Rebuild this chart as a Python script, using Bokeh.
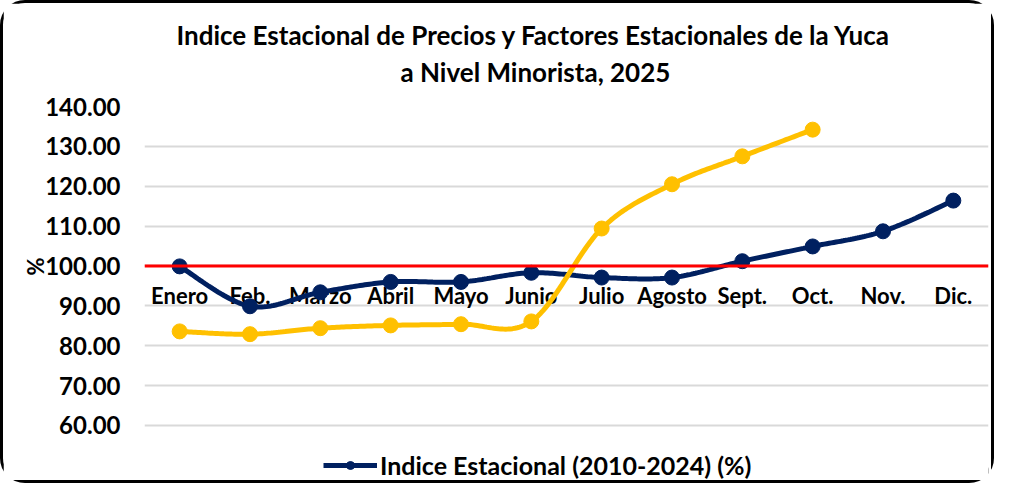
import numpy as np
from bokeh.plotting import figure
from bokeh.models import Range1d, Span, Title, Legend, LegendItem, FixedTicker, NumeralTickFormatter
from bokeh.core.properties import value
from bokeh.embed import file_html
from bokeh.resources import INLINE

months = ["Enero", "Feb.", "Marzo", "Abril", "Mayo", "Junio", "Julio", "Agosto", "Sept.", "Oct.", "Nov.", "Dic."]
indice = [99.9, 89.9, 93.4, 96.0, 96.0, 98.3, 97.1, 97.1, 101.2, 104.9, 108.7, 116.4]
factor = [83.6, 82.9, 84.4, 85.1, 85.4, 86.1, 109.4, 120.5, 127.5, 134.2]
y_ticks = [60, 70, 80, 90, 100, 110, 120, 130, 140]
title_lines = ["Indice Estacional de Precios y Factores Estacionales de la Yuca", "a Nivel Minorista, 2025"]
legend_label = "Indice Estacional (2010-2024) (%)"
axis_title = "%"

NAVY = "#002060"
GOLD = "#FFC000"
FONT = "Lato"


def smooth(ys, n=30):
    xs = np.arange(len(ys), dtype=float)
    ys = np.asarray(ys, dtype=float)
    px, py = [], []
    for i in range(len(ys) - 1):
        p0 = max(i - 1, 0)
        p3 = min(i + 2, len(ys) - 1)
        c1x = xs[i] + (xs[i + 1] - xs[p0]) / 6
        c1y = ys[i] + (ys[i + 1] - ys[p0]) / 6
        c2x = xs[i + 1] - (xs[p3] - xs[i]) / 6
        c2y = ys[i + 1] - (ys[p3] - ys[i]) / 6
        t = np.linspace(0, 1, n, endpoint=(i == len(ys) - 2))
        a = (1 - t) ** 3
        b = 3 * (1 - t) ** 2 * t
        c = 3 * (1 - t) * t ** 2
        d = t ** 3
        px.extend((a * xs[i] + b * c1x + c * c2x + d * xs[i + 1]).tolist())
        py.extend((a * ys[i] + b * c1y + c * c2y + d * ys[i + 1]).tolist())
    return px, py


p = figure(width=994, height=483, output_backend="svg", toolbar_location=None,
           x_range=Range1d(-0.5, 11.5), y_range=Range1d(46.2, 140),
           min_border_left=141, min_border_right=9, min_border_top=103, min_border_bottom=6)

p.styles = {"border": "3px solid black", "border-radius": "25px"}

# title: lower line first (closest to the plot), then the upper line
p.add_layout(Title(text=title_lines[1], align="left", offset=256, text_font=FONT, text_font_size="26px",
                   text_font_style="bold", text_color="black", standoff=37), "above")
p.add_layout(Title(text=title_lines[0], align="left", offset=32, text_font=FONT, text_font_size="26px",
                   text_font_style="bold", text_color="black", standoff=-30), "above")

p.xaxis.visible = False
p.xgrid.visible = False
p.outline_line_color = None

p.yaxis.ticker = FixedTicker(ticks=y_ticks)
p.yaxis.formatter = NumeralTickFormatter(format="0.00")
p.yaxis.major_label_text_font = FONT
p.yaxis.major_label_text_font_size = "24px"
p.yaxis.major_label_text_font_style = "bold"
p.yaxis.major_label_text_color = "black"
p.yaxis.major_label_standoff = 24
p.yaxis.major_tick_out = 0
p.yaxis.major_tick_in = 0
p.yaxis.axis_line_color = None
p.yaxis.major_tick_line_color = None
p.yaxis.minor_tick_line_color = None
p.ygrid.grid_line_color = "#d9d9d9"
p.ygrid.grid_line_width = 2

p.add_layout(Title(text=axis_title, align="left", offset=205, text_font=FONT, text_font_size="22px",
                   text_font_style="bold", text_color="black", standoff=-12), "left")

# category labels along the 100 line
p.text(x=list(range(len(months))), y=[100] * len(months), text=months,
       text_font=value(FONT), text_font_size="22px", text_font_style="bold",
       text_color="black", text_align="center", text_baseline="middle", y_offset=30)

p.add_layout(Span(location=100, dimension="width", line_color="#ff0000", line_width=3))

sx, sy = smooth(indice)
l1 = p.line(sx, sy, line_color=NAVY, line_width=5)
m1 = p.scatter(list(range(len(indice))), indice, size=15, fill_color=NAVY, line_color=NAVY)

gx, gy = smooth(factor)
p.line(gx, gy, line_color=GOLD, line_width=5)
p.scatter(list(range(len(factor))), factor, size=15, fill_color=GOLD, line_color=GOLD)

legend = Legend(items=[LegendItem(label=legend_label, renderers=[l1, m1])],
                location=(179, 0), orientation="horizontal",
                label_text_font=FONT, label_text_font_size="25px", label_text_font_style="bold",
                label_text_color="black", glyph_width=54, glyph_height=20,
                border_line_color=None, background_fill_alpha=0,
                margin=0, padding=0, label_standoff=3)
p.add_layout(legend)

open("out.html", "w").write(file_html(p, INLINE))
